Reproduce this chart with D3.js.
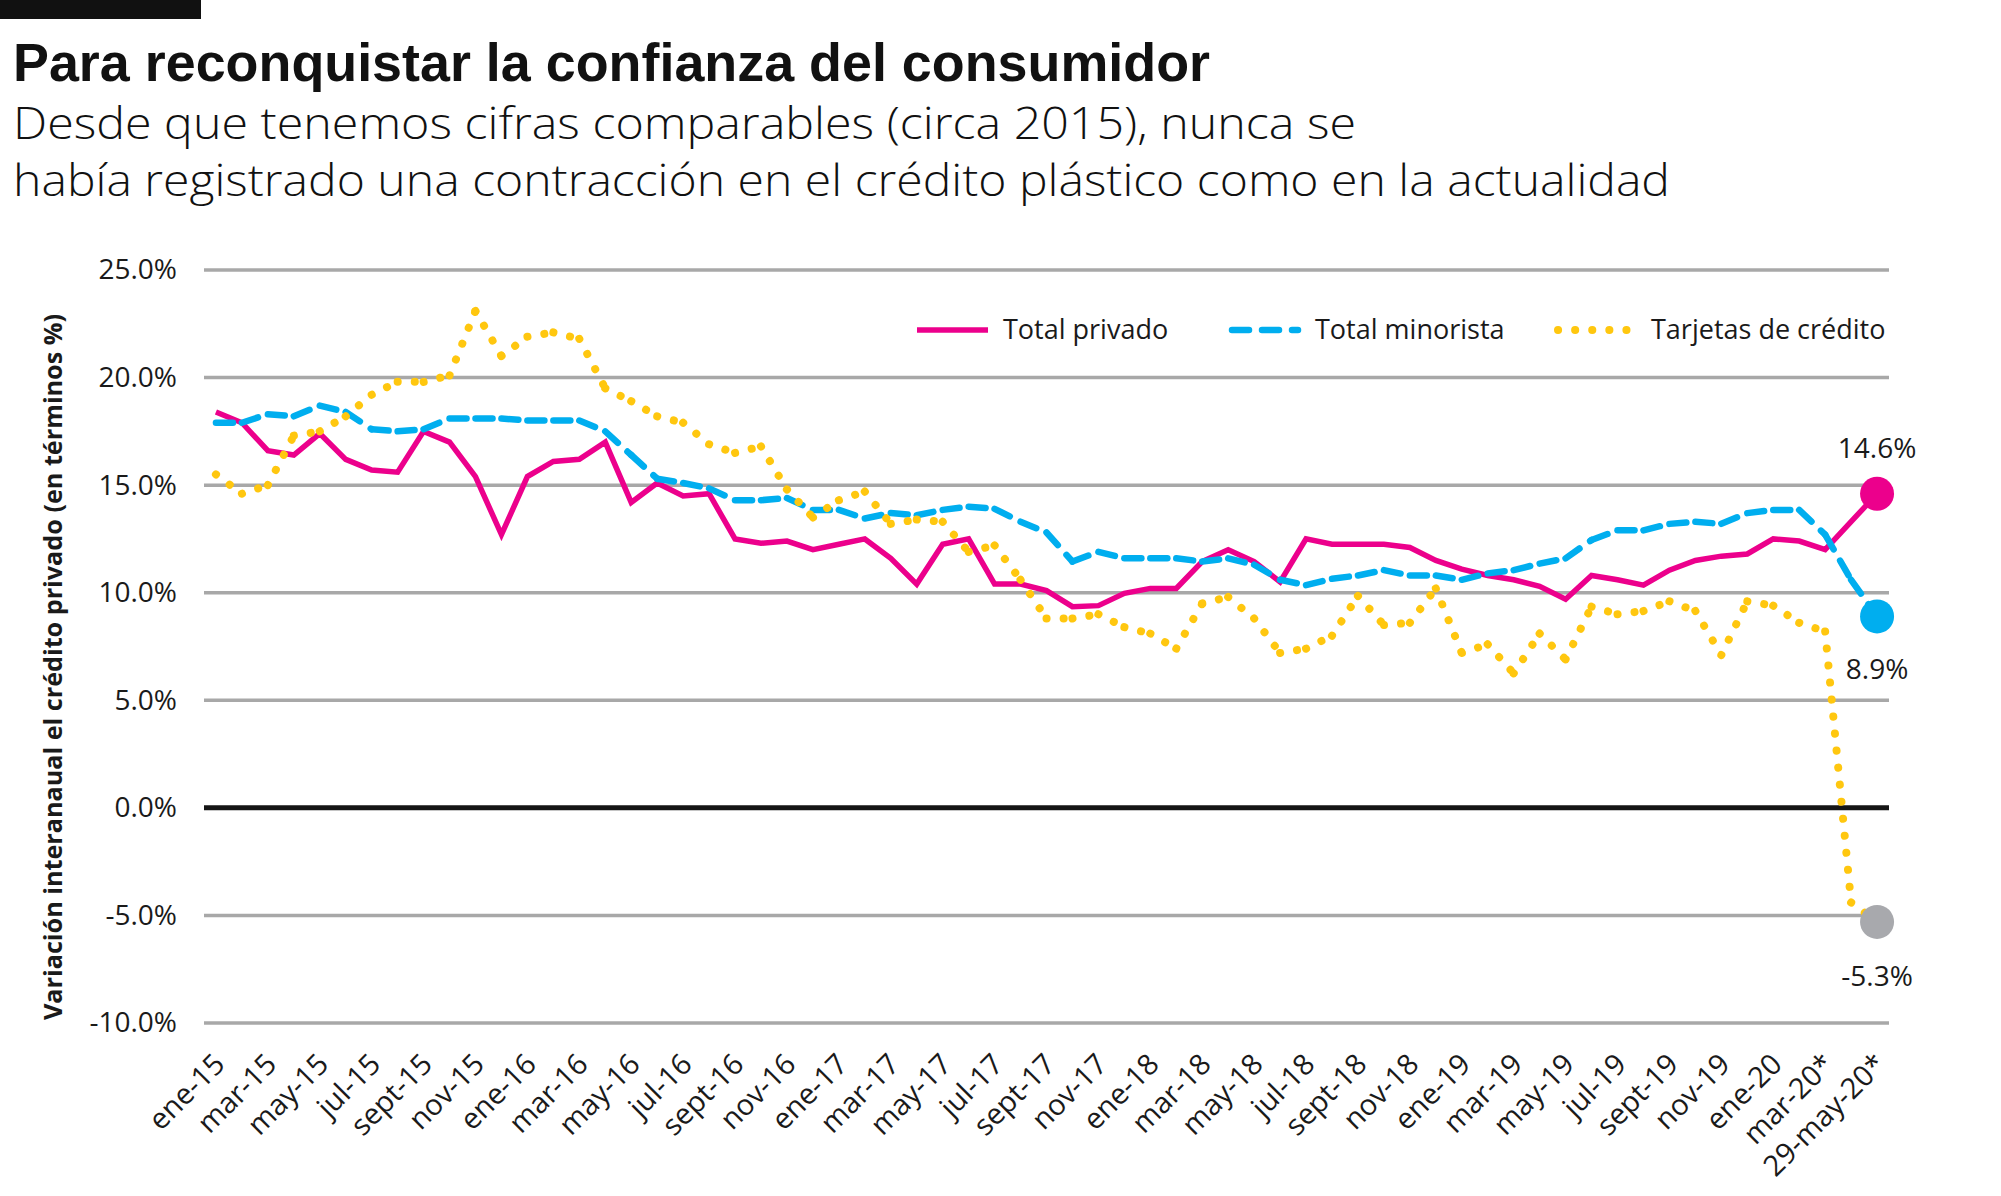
<!DOCTYPE html>
<html>
<head>
<meta charset="utf-8">
<script src="https://cdn.jsdelivr.net/npm/d3@7"></script>
<style>
body { margin: 0; background: #fff; }
text { font-family: "Open Sans", "Liberation Sans", sans-serif; fill: #1a1a1a; }
</style>
</head>
<body>
<div id="chart"></div>
<script>
// meses (ene-15 ... 29-may-20*)
var meses = [
    "ene-15","feb-15","mar-15","abr-15","may-15","jun-15","jul-15","ago-15","sept-15","oct-15","nov-15","dic-15",
    "ene-16","feb-16","mar-16","abr-16","may-16","jun-16","jul-16","ago-16","sept-16","oct-16","nov-16","dic-16",
    "ene-17","feb-17","mar-17","abr-17","may-17","jun-17","jul-17","ago-17","sept-17","oct-17","nov-17","dic-17",
    "ene-18","feb-18","mar-18","abr-18","may-18","jun-18","jul-18","ago-18","sept-18","oct-18","nov-18","dic-18",
    "ene-19","feb-19","mar-19","abr-19","may-19","jun-19","jul-19","ago-19","sept-19","oct-19","nov-19","dic-19",
    "ene-20","feb-20","mar-20*","abr-20*","29-may-20*"
];

var totalPrivado = [
    18.4, 17.9, 16.6, 16.4, 17.4, 16.2, 15.7, 15.6, 17.5, 17.0, 15.4, 12.7,
    15.4, 16.1, 16.2, 17.0, 14.2, 15.1, 14.5, 14.6, 12.5, 12.3, 12.4, 12.0,
    12.25, 12.5, 11.6, 10.4, 12.25, 12.5, 10.4, 10.4, 10.1, 9.35, 9.4, 9.97,
    10.2, 10.2, 11.45, 12.0, 11.45, 10.5, 12.5, 12.25, 12.25, 12.25, 12.1, 11.5,
    11.1, 10.8, 10.6, 10.3, 9.7, 10.8, 10.6, 10.35, 11.05, 11.5, 11.7, 11.8,
    12.5, 12.4, 12.0, 13.3, 14.6
];

var totalMinorista = [
    17.9, 17.9, 18.3, 18.2, 18.7, 18.4, 17.6, 17.5, 17.6, 18.1, 18.1, 18.1,
    18.0, 18.0, 18.0, 17.5, 16.4, 15.3, 15.1, 14.85, 14.3, 14.3, 14.4, 13.85,
    13.85, 13.45, 13.7, 13.6, 13.85, 14.0, 13.9, 13.3, 12.8, 11.45, 11.9, 11.6,
    11.6, 11.6, 11.45, 11.6, 11.3, 10.6, 10.35, 10.65, 10.8, 11.05, 10.8, 10.8,
    10.6, 10.9, 11.05, 11.35, 11.6, 12.45, 12.9, 12.9, 13.2, 13.3, 13.2, 13.7,
    13.85, 13.85, 12.7, 10.6, 8.9
];

var tarjetasCredito = [
    15.5, 14.6, 15.0, 17.3, 17.5, 18.2, 19.2, 19.8, 19.8, 20.1, 23.1, 21.0,
    21.9, 22.1, 21.8, 19.5, 18.9, 18.2, 17.9, 16.9, 16.5, 16.8, 14.8, 13.5,
    14.3, 14.7, 13.2, 13.4, 13.3, 11.9, 12.2, 10.6, 8.8, 8.8, 9.0, 8.4,
    8.1, 7.4, 9.5, 9.8, 8.8, 7.2, 7.4, 8.0, 9.85, 8.5, 8.6, 10.2,
    7.2, 7.6, 6.25, 8.1, 6.9, 9.35, 9.0, 9.15, 9.6, 9.15, 7.1, 9.6,
    9.4, 8.6, 8.2, -4.4, -5.3
];

var yTicks = [-10, -5, 0, 5, 10, 15, 20, 25];
var nombresSeries = ["Total privado", "Total minorista", "Tarjetas de crédito"];

function init() {
    var W = 2001, H = 1196;
    var plot = { left: 204, right: 1889, top: 270, bottom: 1023 };

    var svg = d3.select("#chart")
        .append("svg")
        .attr("width", W)
        .attr("height", H);

    // header
    svg.append("rect").attr("x", 0).attr("y", 0).attr("width", 201).attr("height", 19).attr("fill", "#111");

    svg.append("text")
        .attr("x", 13).attr("y", 81)
        .attr("textLength", 1197).attr("lengthAdjust", "spacingAndGlyphs")
        .style("font-family", "'Liberation Sans Narrow', 'Arial Narrow', 'Liberation Sans', sans-serif")
        .style("font-weight", "bold")
        .style("font-size", "54px")
        .style("fill", "#111")
        .text("Para reconquistar la confianza del consumidor");

    var sub = [
        "Desde que tenemos cifras comparables (circa 2015), nunca se",
        "había registrado una contracción en el crédito plástico como en la actualidad"
    ];
    var subLen = [1343, 1657];
    svg.selectAll(".sub")
        .data(sub)
        .enter()
        .append("text")
        .attr("class", "sub")
        .attr("x", 13)
        .attr("y", (d, i) => 139 + i * 57)
        .attr("textLength", (d, i) => subLen[i])
        .attr("lengthAdjust", "spacingAndGlyphs")
        .style("font-weight", 300)
        .style("font-size", "45px")
        .style("fill", "#111")
        .text(d => d);

    // scales
    var x = d3.scalePoint()
        .domain(meses)
        .range([plot.left, plot.right])
        .padding(0.46);

    var y = d3.scaleLinear()
        .domain([-10, 25])
        .range([plot.bottom, plot.top]);

    // gridlines
    svg.append("g")
        .selectAll("line")
        .data(yTicks)
        .enter()
        .append("line")
        .attr("x1", plot.left).attr("x2", plot.right)
        .attr("y1", d => y(d)).attr("y2", d => y(d))
        .attr("stroke", d => d === 0 ? "#151515" : "#a8a8a8")
        .attr("stroke-width", d => d === 0 ? 5 : 3.5);

    // y axis
    var yAxis = svg.append("g")
        .attr("transform", "translate(180,0)")
        .call(d3.axisLeft(y).tickValues(yTicks).tickSize(0).tickFormat(d => d.toFixed(1) + "%"));
    yAxis.select(".domain").remove();
    yAxis.selectAll("text")
        .style("font-family", "'Open Sans', sans-serif")
        .style("font-size", "28px")
        .style("fill", "#1a1a1a");

    svg.append("text")
        .attr("transform", "translate(62,667) rotate(-90)")
        .attr("text-anchor", "middle")
        .attr("textLength", 706).attr("lengthAdjust", "spacingAndGlyphs")
        .style("font-weight", "bold")
        .style("font-size", "25px")
        .text("Variación interanaual el crédito privado (en términos %)");

    // x axis
    var xAxis = svg.append("g")
        .attr("transform", "translate(0,1066)")
        .call(d3.axisBottom(x).tickValues(meses.filter((d, i) => i % 2 === 0)).tickSize(0));
    xAxis.select(".domain").remove();
    xAxis.selectAll("text")
        .attr("x", 0).attr("y", 0).attr("dy", 0)
        .attr("transform", "translate(10,0) rotate(-45)")
        .style("text-anchor", "end")
        .style("font-family", "'Open Sans', sans-serif")
        .style("font-size", "29px")
        .style("fill", "#1a1a1a");

    // series
    var series = [
        { name: nombresSeries[0], values: totalPrivado, color: "#ec008c", width: 5.5, dash: null, cap: "round" },
        { name: nombresSeries[1], values: totalMinorista, color: "#00aeef", width: 6.5, dash: "17,13", cap: "round" },
        { name: nombresSeries[2], values: tarjetasCredito, color: "#ffc70f", width: 8, dash: "0.1,17", cap: "round" }
    ];

    var line = d3.line()
        .x(d => x(d.m))
        .y(d => y(d.v));

    series.forEach(s => {
        var pts = meses.map((m, i) => ({ m: m, v: s.values[i] }));
        if (!s.dash) {
            svg.append("path")
                .datum(pts)
                .attr("d", line)
                .attr("fill", "none")
                .attr("stroke", s.color)
                .attr("stroke-width", s.width)
                .attr("stroke-linejoin", "miter");
        } else {
            // dash pattern restarts at every segment, as in the original
            svg.append("g")
                .selectAll("path")
                .data(d3.pairs(pts))
                .enter()
                .append("path")
                .attr("d", d => line(d))
                .attr("fill", "none")
                .attr("stroke", s.color)
                .attr("stroke-width", s.width)
                .attr("stroke-dasharray", s.dash)
                .attr("stroke-linecap", s.cap);
        }
    });

    // end markers and labels
    var ultimo = meses[meses.length - 1];
    var marcas = [
        { v: totalPrivado[totalPrivado.length - 1], color: "#ec008c", dy: -36 },
        { v: totalMinorista[totalMinorista.length - 1], color: "#00aeef", dy: 63 },
        { v: tarjetasCredito[tarjetasCredito.length - 1], color: "#a8a9ad", dy: 64 }
    ];
    svg.selectAll(".marca")
        .data(marcas)
        .enter()
        .append("circle")
        .attr("class", "marca")
        .attr("cx", x(ultimo))
        .attr("cy", d => y(d.v))
        .attr("r", 17)
        .attr("fill", d => d.color);

    svg.selectAll(".etq")
        .data(marcas)
        .enter()
        .append("text")
        .attr("class", "etq")
        .attr("x", x(ultimo))
        .attr("y", d => y(d.v) + d.dy)
        .attr("text-anchor", "middle")
        .style("font-size", "28px")
        .style("font-weight", 500)
        .text(d => d.v.toFixed(1) + "%");

    // legend
    var leyenda = [
        { x1: 917, x2: 988, tx: 1003, s: series[0] },
        { x1: 1232, x2: 1298, tx: 1315, s: series[1] },
        { x1: 1558, x2: 1636, tx: 1651, s: series[2] }
    ];
    var lg = svg.append("g").attr("transform", "translate(0,330)");
    lg.selectAll("line")
        .data(leyenda)
        .enter()
        .append("line")
        .attr("x1", d => d.x1).attr("x2", d => d.x2)
        .attr("y1", 0).attr("y2", 0)
        .attr("stroke", d => d.s.color)
        .attr("stroke-width", d => d.s.width)
        .attr("stroke-dasharray", d => d.s.dash)
        .attr("stroke-linecap", d => d.s.dash ? "round" : "butt");
    lg.selectAll("text")
        .data(leyenda)
        .enter()
        .append("text")
        .attr("x", d => d.tx)
        .attr("y", 0)
        .attr("dy", "0.35em")
        .style("font-size", "27px")
        .text(d => d.s.name);
}

window.onload = init;
</script>
</body>
</html>
